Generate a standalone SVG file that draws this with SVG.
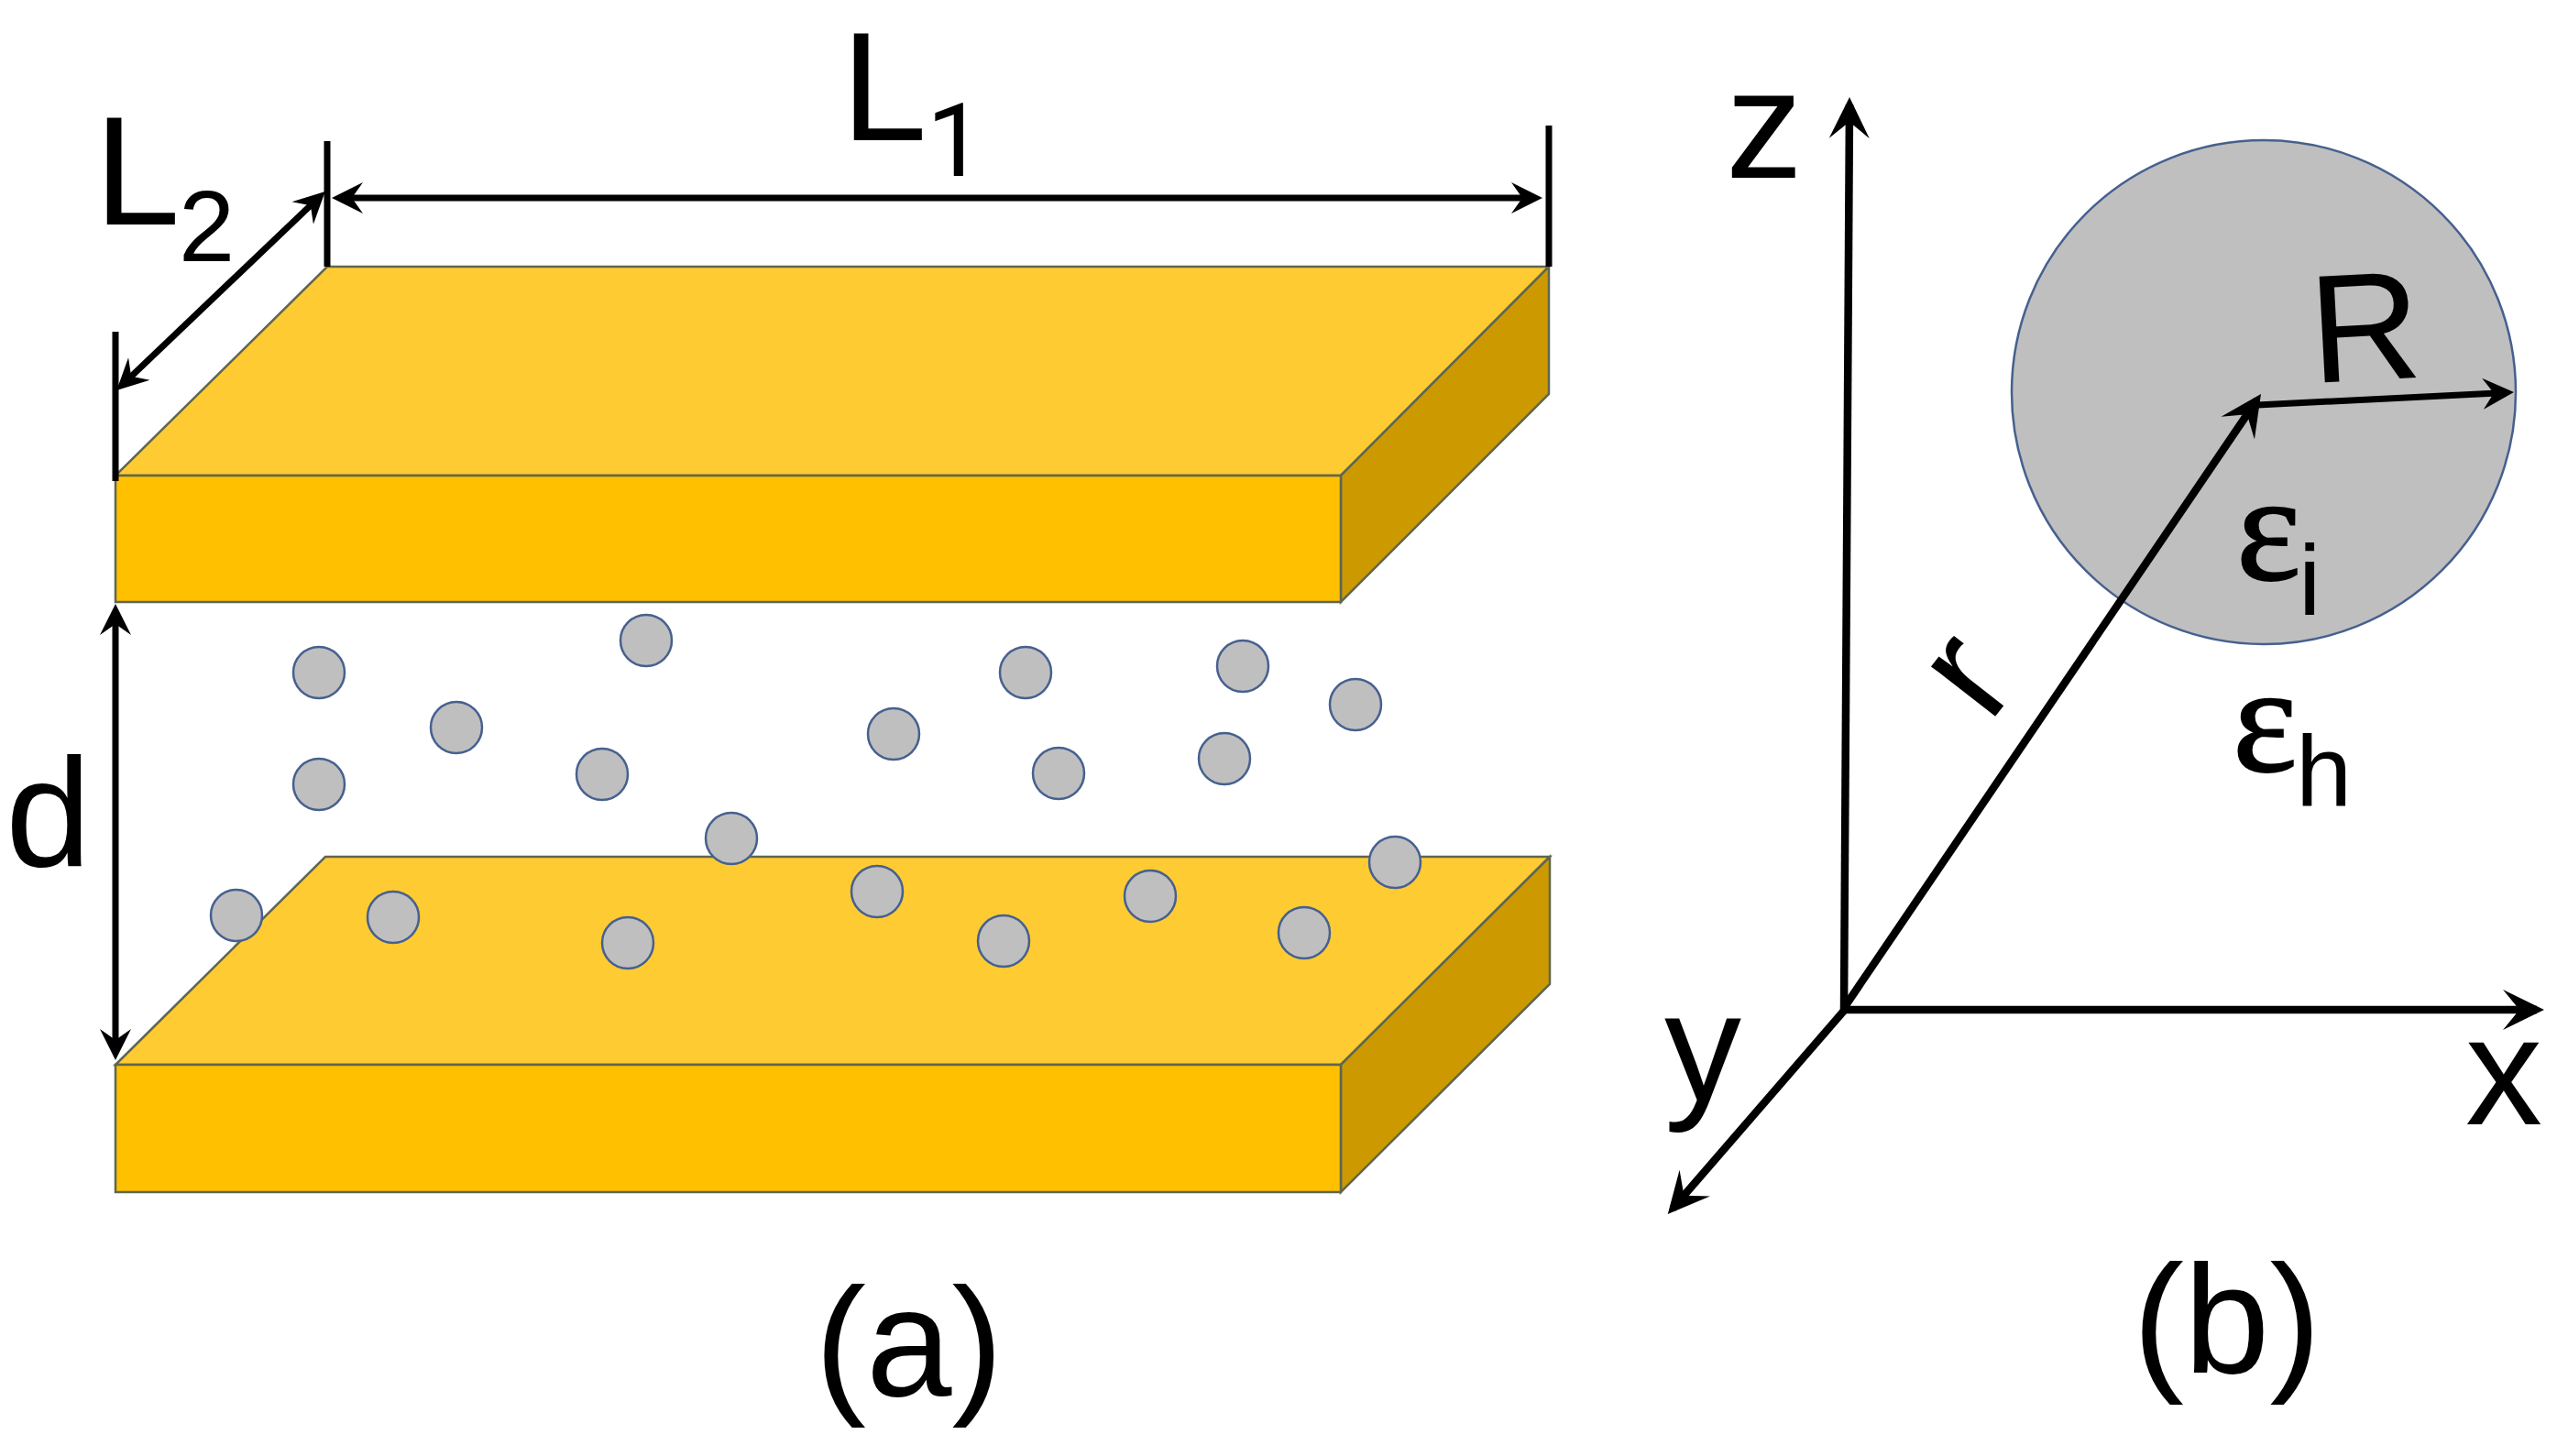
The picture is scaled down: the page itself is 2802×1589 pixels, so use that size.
<svg xmlns="http://www.w3.org/2000/svg" width="2802" height="1589" viewBox="0 0 2802 1589">
<style>
text{font-family:"Liberation Sans",Arial,sans-serif;fill:#000}
.t{font-size:168px}
.s{font-size:110px}
.one{font-family:Roboto,"Liberation Sans",sans-serif;font-size:112px}
.e{font-family:"Liberation Serif","DejaVu Serif",serif;font-size:168px;stroke:#000;stroke-width:2}
.top{fill:#FFCB33;stroke:#5f6650;stroke-width:2.5}
.front{fill:#FFC000;stroke:#5f6650;stroke-width:2.5}
.side{fill:#CC9A00;stroke:#5f6650;stroke-width:2.5}
.p{fill:#BFBFBF;stroke:#46608f;stroke-width:2.5}
.a{fill:none;stroke:#000;stroke-width:8.5}
.b{fill:none;stroke:#000;stroke-width:7}
.big{marker-end:url(#hb)}
.mid{marker-end:url(#hm)}
.two{marker-start:url(#hm);marker-end:url(#hm)}
</style>
<defs>
<marker id="hb" markerUnits="userSpaceOnUse" markerWidth="50" markerHeight="50" refX="37" refY="25" orient="auto"><path d="M45 25L0 3L18 25L0 47Z" fill="#000"/></marker>
<marker id="hm" markerUnits="userSpaceOnUse" markerWidth="40" markerHeight="40" refX="26" refY="20" orient="auto-start-reverse"><path d="M34 20L0 3L12 20L0 37Z" fill="#000"/></marker>
</defs>
<rect width="2802" height="1589" fill="#fff"/>
<g id="plate-top">
<polygon class="top" points="126,519 357,291 1690,291 1463,519"/>
<polygon class="side" points="1463,519 1690,291 1690,430 1463,657"/>
<rect class="front" x="126" y="519" width="1337" height="138"/>
</g>
<g id="plate-bottom">
<polygon class="top" points="126,1162 355,935 1691,935 1463,1162"/>
<polygon class="side" points="1463,1162 1691,935 1691,1074 1463,1301"/>
<rect class="front" x="126" y="1162" width="1337" height="139"/>
</g>
<g id="particles">
<circle class="p" cx="348" cy="734" r="28"/>
<circle class="p" cx="498" cy="794" r="28"/>
<circle class="p" cx="705" cy="699" r="28"/>
<circle class="p" cx="348" cy="856" r="28"/>
<circle class="p" cx="657" cy="845" r="28"/>
<circle class="p" cx="798" cy="915" r="28"/>
<circle class="p" cx="258" cy="999" r="28"/>
<circle class="p" cx="429" cy="1001" r="28"/>
<circle class="p" cx="685" cy="1029" r="28"/>
<circle class="p" cx="975" cy="801" r="28"/>
<circle class="p" cx="1119" cy="734" r="28"/>
<circle class="p" cx="1356" cy="727" r="28"/>
<circle class="p" cx="1479" cy="769" r="28"/>
<circle class="p" cx="1155" cy="844" r="28"/>
<circle class="p" cx="1336" cy="828" r="28"/>
<circle class="p" cx="957" cy="973" r="28"/>
<circle class="p" cx="1095" cy="1027" r="28"/>
<circle class="p" cx="1255" cy="978" r="28"/>
<circle class="p" cx="1423" cy="1018" r="28"/>
<circle class="p" cx="1522" cy="941" r="28"/>
</g>
<g id="sphere"><circle cx="2470" cy="428" r="275" fill="#BFBFBF" stroke="#46608f" stroke-width="2.5"/></g>
<g id="connectors">
<path class="b" d="M357 154V291M126 362V525M1690 137V291"/>
<path class="b two" d="M370 216H1675"/>
<path class="b two" d="M133 420.5L349 214.5"/>
<path class="b two" d="M126 667V1149"/>
<path class="a big" d="M2012 1103L2018 114"/>
<path class="a big" d="M2008 1102H2768"/>
<path class="a big" d="M2012 1103L1825 1319"/>
<path class="a big" d="M2012 1100L2462.5 436.6"/>
<path class="b mid" d="M2463 442L2735 428.4"/>
</g>
<g id="labels">
<text class="t" x="918" y="153">L</text><text class="one" x="1011" y="192">1</text>
<text class="t" x="103" y="245">L</text><text class="s" x="195" y="285">2</text>
<text class="t" x="6" y="945">d</text>
<text class="t" x="889" y="1523">(a)</text>
<text class="t" x="2327" y="1498">(b)</text>
<text class="t" x="1883" y="194">z</text>
<text class="t" x="2690" y="1227">x</text>
<text class="t" x="1816" y="1201">y</text>
<text class="t" transform="translate(2523 418) rotate(-3)">R</text>
<text class="t" transform="translate(2170 791) rotate(-52)">r</text>
<text class="e" x="2440" y="632">ε</text><text class="s" x="2508" y="671">i</text>
<text class="e" x="2436" y="841">ε</text><text class="s" x="2505" y="879">h</text>
</g>
</svg>
